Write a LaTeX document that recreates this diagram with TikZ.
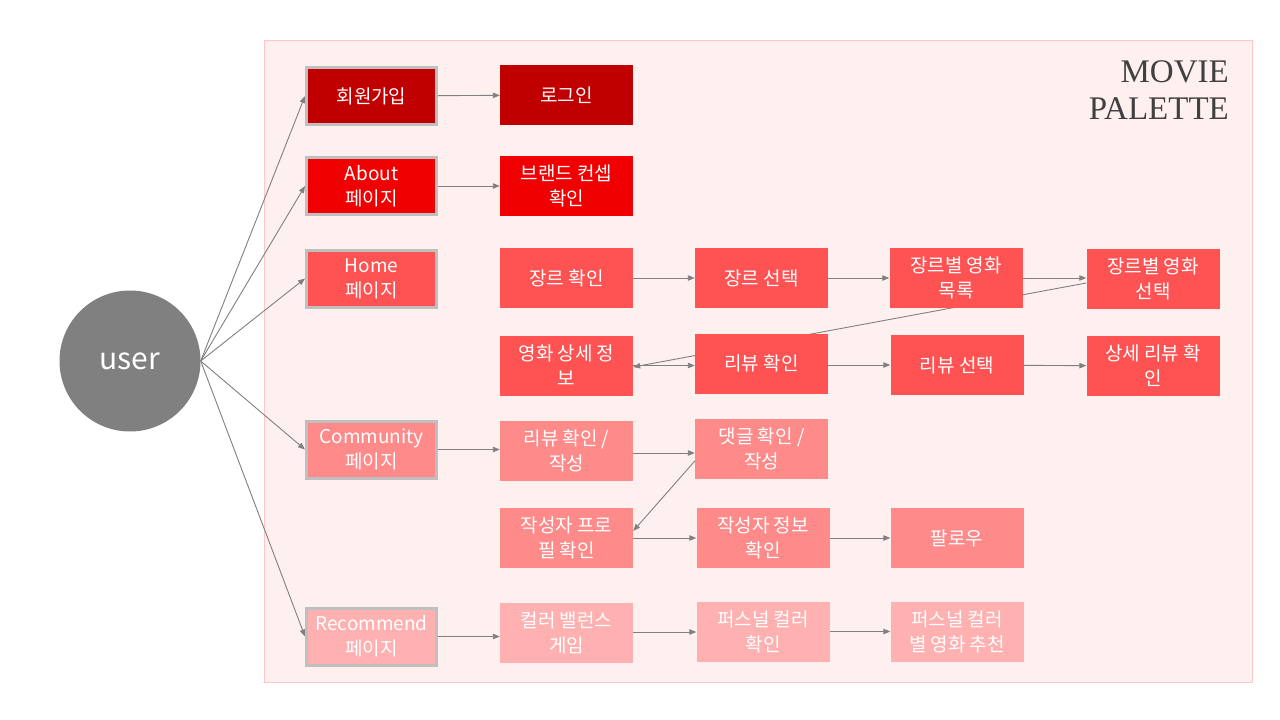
\documentclass[tikz,border=0pt]{standalone}
\usepackage{fontspec}
\usetikzlibrary{arrows.meta}
\newfontfamily\kr{Noto Sans CJK KR}
\newfontfamily\ttl{Liberation Serif}
\definecolor{cA}{HTML}{C00000}
\definecolor{cB}{HTML}{F00000}
\definecolor{cC}{HTML}{FF5252}
\definecolor{cD}{HTML}{FF8A8A}
\definecolor{cE}{HTML}{FFB1B1}
\definecolor{frameb}{HTML}{FFC8C8}
\definecolor{framef}{HTML}{FFF0F0}
\definecolor{edge}{HTML}{808080}
\definecolor{bord}{HTML}{BFBFBF}
\pgfdeclarelayer{bg}
\pgfsetlayers{bg,main}
\begin{document}
\begin{tikzpicture}[x=1pt,y=-1pt,
  box/.style={minimum width=133pt, minimum height=60pt, inner sep=0pt, text=white, align=center,
    font=\kr\fontsize{19}{25}\selectfont},
  pagebox/.style={box, draw=bord, line width=3pt, minimum width=130pt, minimum height=57pt},
  conn/.style={draw=edge, line width=0.9pt, -{Triangle[length=7pt,width=5.5pt]}}]
\useasboundingbox (0,0) rectangle (1280,720);
\begin{pgfonlayer}{bg}
\fill[white] (0,0) rectangle (1280,720);
\draw[draw=frameb, fill=framef, line width=0.8pt] (264,40) rectangle (1252,682);
\end{pgfonlayer}
\node[align=right, anchor=north east, inner sep=0pt, text=black!75, font=\ttl\fontsize{33}{37}\selectfont] (title) at (1229,60) {MOVIE\\PALETTE};

\node[circle, fill=edge, minimum size=141pt, inner sep=0pt, text=white, font=\kr\fontsize{30}{32}\selectfont] (user) at (130,361) {user};

% left column
\node[pagebox, fill=cA] (join) at (371.5,96) {회원가입};
\node[pagebox, fill=cB] (about) at (371.5,186) {About\\페이지};
\node[pagebox, fill=cC] (home) at (371.5,278.5) {Home\\페이지};
\node[pagebox, fill=cD] (comm) at (371.5,449.5) {Community\\페이지};
\node[pagebox, fill=cE] (rec) at (371.5,636.5) {Recommend\\페이지};

% column 2
\node[box, fill=cA] (login) at (566.5,95) {로그인};
\node[box, fill=cB] (brand) at (566.5,186) {브랜드 컨셉\\확인};
\node[box, fill=cC] (genre) at (566.5,278) {장르 확인};
\node[box, fill=cC] (detail) at (566.5,365.5) {영화 상세 정\\보};
\node[box, fill=cD] (rw) at (566.5,451) {리뷰 확인 /\\작성};
\node[box, fill=cD] (prof) at (566.5,538) {작성자 프로\\필 확인};
\node[box, fill=cE] (game) at (566.5,633) {컬러 밸런스\\게임};

% column 3
\node[box, fill=cC] (gsel) at (761.5,278) {장르 선택};
\node[box, fill=cC] (review) at (761.5,363.5) {리뷰 확인};
\node[box, fill=cD] (cmt) at (761.5,449) {댓글 확인 /\\작성};
\node[box, fill=cD] (winfo) at (763,538) {작성자 정보\\확인};
\node[box, fill=cE] (pc) at (763,631.5) {퍼스널 컬러\\확인};

% column 4
\node[box, fill=cC] (glist) at (956,278) {장르별 영화\\목록};
\node[box, fill=cC] (rsel) at (957,365) {리뷰 선택};
\node[box, fill=cD] (follow) at (957,538) {팔로우};
\node[box, fill=cE] (rec2) at (957,631.5) {퍼스널 컬러\\별 영화 추천};

% column 5
\node[box, fill=cC] (gmsel) at (1153,279) {장르별 영화\\선택};
\node[box, fill=cC] (drev) at (1153,366) {상세 리뷰 확\\인};

\begin{pgfonlayer}{bg}
% user connectors
\foreach \t in {join,about,home,comm,rec}
  \draw[conn] (user.east) -- (\t.west);

\draw[conn] (join) -- (login);
\draw[conn] (about) -- (brand);
\draw[conn] (genre) -- (gsel);
\draw[conn] (gsel) -- (glist);
\draw[conn] (glist) -- (gmsel.west |- glist);
\draw[conn] ([yshift=-4pt]gmsel.west) -- ([yshift=-1.5pt]detail.east);
\draw[conn] (detail.east) -- (review.west |- detail.east);
\draw[conn] (review.east |- rsel) -- (rsel);
\draw[conn] (rsel) -- (drev);
\draw[conn] (comm) -- (rw.west |- comm);
\draw[conn] (rw.east |- 0,453) -- (cmt.west |- 0,453);
\draw[conn] (cmt.west |- 0,461) -- ([yshift=7pt]prof.east);
\draw[conn] (prof.east) -- (winfo.west);
\draw[conn] (winfo) -- (follow);
\draw[conn] (rec) -- (game.west |- rec);
\draw[conn] (game.east |- 0,632) -- (pc.west |- 0,632);
\draw[conn] (pc) -- (rec2);
\end{pgfonlayer}
\end{tikzpicture}
\end{document}
